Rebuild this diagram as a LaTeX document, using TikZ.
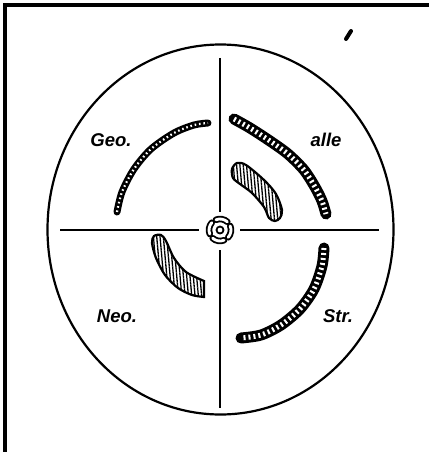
\documentclass[tikz,border=0pt]{standalone}
\usepackage{fontspec}
\setsansfont{Liberation Sans}
\usetikzlibrary{patterns.meta}

\begin{document}
\begin{tikzpicture}[x=1pt, y=-1pt,
  lbl/.style={font=\sffamily\bfseries\itshape\fontsize{18.5}{18.5}\selectfont, inner sep=0pt},
  band/.style={line width=11pt, line cap=round, postaction={draw=white, line width=5pt, line cap=butt, dash pattern=on 2pt off 3pt}},
  thinband/.style={line width=7pt, line cap=round, postaction={draw=white, line width=2.2pt, line cap=butt, dash pattern=on 1.6pt off 2.8pt}},
  hatched/.style={draw, line width=2.2pt, pattern={Lines[angle=95,distance=3.3pt,line width=1.3pt]}},
  petal/.style={line width=6.5pt, line cap=round, postaction={draw=white, line width=2.8pt}}]
\useasboundingbox (0,0) rectangle (429,452);
% frame and stray mark
\draw[line width=3.5pt] (5,452) -- (5,5) -- (429,5);
\draw[line width=4pt, line cap=round] (346,39) -- (351,31);
% disc
\draw[line width=2.2pt] (220.5,229.5) ellipse [x radius=173, y radius=185];
% cross
\coordinate (c) at (220,230);
\coordinate (w1) at (60,230);  \coordinate (w2) at (199,230);
\coordinate (e1) at (240,230); \coordinate (e2) at (379,230);
\coordinate (n1) at (220,58);  \coordinate (n2) at (220,212);
\coordinate (s1) at (220,250); \coordinate (s2) at (220,408);
\draw[line width=1.8pt] (w1) -- (w2); \draw[line width=1.8pt] (e1) -- (e2);
\draw[line width=1.8pt] (n1) -- (n2); \draw[line width=1.8pt] (s1) -- (s2);
% centre mark
\draw[line width=1.8pt] (c) circle[radius=3.5];
\foreach \a in {10,100,190,280}
  \draw[petal, shift={(c)}] ({\a-32}:11) arc[start angle=\a-32, end angle=\a+32, radius=11];
% labels
\node[lbl] (geo) at (111,140) {Geo.};
\node[lbl] (alle) at (326,140) {alle};
\node[lbl] (neo) at (117,316) {Neo.};
\node[lbl] (str) at (338,316) {Str.};
% bands
\draw[thinband] plot[smooth] coordinates {(117,212) (122,192) (134,169) (151,149) (174,133) (194,125) (208,123)};
\draw[band] plot[smooth] coordinates {(234,119) (250,128) (270,141) (288,154) (304,170) (315,187) (322,201) (326,214)};
\draw[band] plot[smooth] coordinates {(324,248) (322,266) (314,289) (300,309) (281,325) (261,335) (241,338)};
% hatched crescents
\draw[hatched] plot[smooth cycle] coordinates {(233,178) (232,169) (237,163) (246,165) (264,180) (276,194) (282,210) (280,218) (275,221) (269,218) (264,207) (252,193) (240,184)};
\draw[hatched] plot[smooth] coordinates {(204,281) (186,272) (174,258) (166,241) (161,235) (154,236) (152,243) (156,258) (165,275) (178,288) (192,295) (204,297)} -- cycle;
\end{tikzpicture}
\end{document}
